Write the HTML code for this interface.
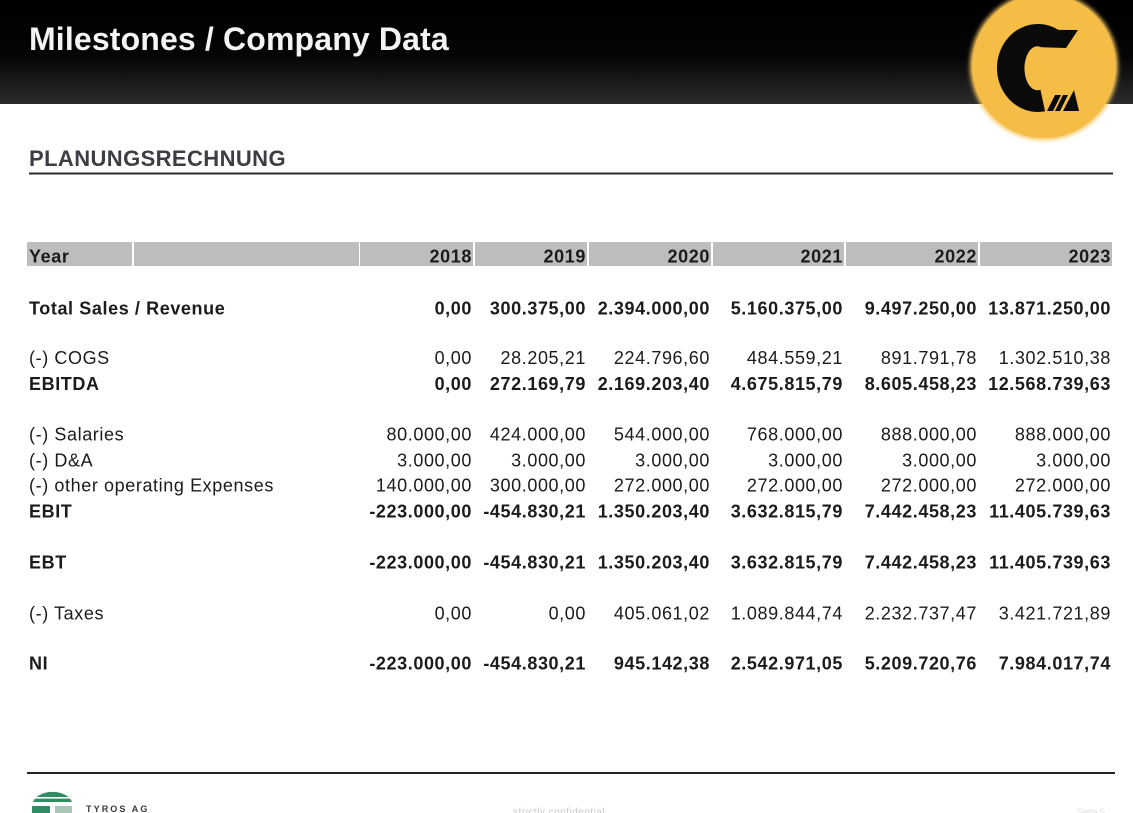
<!DOCTYPE html>
<html>
<head>
<meta charset="utf-8">
<style>
  html, body { margin: 0; padding: 0; background: #ffffff; }
  body { width: 1133px; height: 813px; overflow: hidden; }
  svg { display: block; }
  text { font-family: "Liberation Sans", Arial, sans-serif; }
  .v { font-size: 18px; letter-spacing: 0.6px; fill: #1b1b1b; text-anchor: end; }
  .l { font-size: 18px; letter-spacing: 0.6px; fill: #1b1b1b; }
  .b { font-weight: bold; }
</style>
</head>
<body>
<svg width="1133" height="813" viewBox="0 0 1133 813" xmlns="http://www.w3.org/2000/svg">
  <defs>
    <linearGradient id="hdr" x1="0" y1="0" x2="0" y2="1">
      <stop offset="0" stop-color="#000000"/>
      <stop offset="0.55" stop-color="#050505"/>
      <stop offset="1" stop-color="#2c2c2c"/>
    </linearGradient>
    <filter id="glow" x="-20%" y="-20%" width="140%" height="140%">
      <feGaussianBlur stdDeviation="2"/>
    </filter>
  </defs>

  <!-- header bar -->
  <rect x="0" y="0" width="1133" height="104" fill="url(#hdr)"/>
  <text x="29" y="50" font-size="32" font-weight="bold" letter-spacing="0.15" fill="#f4f4f4">Milestones / Company Data</text>

  <!-- logo circle -->
  <circle cx="1044" cy="66" r="74" fill="#f6c55a" filter="url(#glow)"/>
  <circle cx="1044" cy="66" r="72" fill="#f5bd45"/>
  <path d="M1078 30 L1058.5 29.9 A41 44 0 1 0 1045.1 111.3 L1040.4 89.7 A13 22 0 1 1 1041.4 47.3 L1066 48 Z" fill="#0a0a0a"/>
  <polygon points="1047,111 1053,111 1061,95 1055,95" fill="#0a0a0a"/>
  <polygon points="1055,111 1060,111 1068,95 1063,95" fill="#0a0a0a"/>
  <polygon points="1063,111 1079,111 1074,90" fill="#0a0a0a"/>

  <!-- section title -->
  <text x="29" y="166" font-size="22" font-weight="bold" letter-spacing="0.4" fill="#3b3e43">PLANUNGSRECHNUNG</text>
  <rect x="29" y="172.5" width="1084" height="2" fill="#2e2e2e"/>

  <!-- header row -->
  <g fill="#bdbdbd">
    <rect x="27" y="242" width="105" height="24"/>
    <rect x="134" y="242" width="225" height="24"/>
    <rect x="360" y="242" width="113" height="24"/>
    <rect x="475" y="242" width="112" height="24"/>
    <rect x="589" y="242" width="122" height="24"/>
    <rect x="713" y="242" width="131" height="24"/>
    <rect x="846" y="242" width="132" height="24"/>
    <rect x="980" y="242" width="132" height="24"/>
  </g>
  <text class="l b" x="29" y="262.5">Year</text>
  <text class="v b" x="472" y="262.5">2018</text>
  <text class="v b" x="586" y="262.5">2019</text>
  <text class="v b" x="710" y="262.5">2020</text>
  <text class="v b" x="843" y="262.5">2021</text>
  <text class="v b" x="977" y="262.5">2022</text>
  <text class="v b" x="1111" y="262.5">2023</text>

  <!-- Total Sales -->
  <text class="l b" x="29" y="314.5">Total Sales / Revenue</text>
  <text class="v b" x="472" y="314.5">0,00</text>
  <text class="v b" x="586" y="314.5">300.375,00</text>
  <text class="v b" x="710" y="314.5">2.394.000,00</text>
  <text class="v b" x="843" y="314.5">5.160.375,00</text>
  <text class="v b" x="977" y="314.5">9.497.250,00</text>
  <text class="v b" x="1111" y="314.5">13.871.250,00</text>

  <!-- COGS -->
  <text class="l" x="29" y="364">(-) COGS</text>
  <text class="v" x="472" y="364">0,00</text>
  <text class="v" x="586" y="364">28.205,21</text>
  <text class="v" x="710" y="364">224.796,60</text>
  <text class="v" x="843" y="364">484.559,21</text>
  <text class="v" x="977" y="364">891.791,78</text>
  <text class="v" x="1111" y="364">1.302.510,38</text>

  <!-- EBITDA -->
  <text class="l b" x="29" y="390">EBITDA</text>
  <text class="v b" x="472" y="390">0,00</text>
  <text class="v b" x="586" y="390">272.169,79</text>
  <text class="v b" x="710" y="390">2.169.203,40</text>
  <text class="v b" x="843" y="390">4.675.815,79</text>
  <text class="v b" x="977" y="390">8.605.458,23</text>
  <text class="v b" x="1111" y="390">12.568.739,63</text>

  <!-- Salaries -->
  <text class="l" x="29" y="440.5">(-) Salaries</text>
  <text class="v" x="472" y="440.5">80.000,00</text>
  <text class="v" x="586" y="440.5">424.000,00</text>
  <text class="v" x="710" y="440.5">544.000,00</text>
  <text class="v" x="843" y="440.5">768.000,00</text>
  <text class="v" x="977" y="440.5">888.000,00</text>
  <text class="v" x="1111" y="440.5">888.000,00</text>

  <!-- D&A -->
  <text class="l" x="29" y="466.5">(-) D&amp;A</text>
  <text class="v" x="472" y="466.5">3.000,00</text>
  <text class="v" x="586" y="466.5">3.000,00</text>
  <text class="v" x="710" y="466.5">3.000,00</text>
  <text class="v" x="843" y="466.5">3.000,00</text>
  <text class="v" x="977" y="466.5">3.000,00</text>
  <text class="v" x="1111" y="466.5">3.000,00</text>

  <!-- other operating -->
  <text class="l" x="29" y="491.5">(-) other operating Expenses</text>
  <text class="v" x="472" y="491.5">140.000,00</text>
  <text class="v" x="586" y="491.5">300.000,00</text>
  <text class="v" x="710" y="491.5">272.000,00</text>
  <text class="v" x="843" y="491.5">272.000,00</text>
  <text class="v" x="977" y="491.5">272.000,00</text>
  <text class="v" x="1111" y="491.5">272.000,00</text>

  <!-- EBIT -->
  <text class="l b" x="29" y="517.5">EBIT</text>
  <text class="v b" x="472" y="517.5">-223.000,00</text>
  <text class="v b" x="586" y="517.5">-454.830,21</text>
  <text class="v b" x="710" y="517.5">1.350.203,40</text>
  <text class="v b" x="843" y="517.5">3.632.815,79</text>
  <text class="v b" x="977" y="517.5">7.442.458,23</text>
  <text class="v b" x="1111" y="517.5">11.405.739,63</text>

  <!-- EBT -->
  <text class="l b" x="29" y="568.5">EBT</text>
  <text class="v b" x="472" y="568.5">-223.000,00</text>
  <text class="v b" x="586" y="568.5">-454.830,21</text>
  <text class="v b" x="710" y="568.5">1.350.203,40</text>
  <text class="v b" x="843" y="568.5">3.632.815,79</text>
  <text class="v b" x="977" y="568.5">7.442.458,23</text>
  <text class="v b" x="1111" y="568.5">11.405.739,63</text>

  <!-- Taxes -->
  <text class="l" x="29" y="619.5">(-) Taxes</text>
  <text class="v" x="472" y="619.5">0,00</text>
  <text class="v" x="586" y="619.5">0,00</text>
  <text class="v" x="710" y="619.5">405.061,02</text>
  <text class="v" x="843" y="619.5">1.089.844,74</text>
  <text class="v" x="977" y="619.5">2.232.737,47</text>
  <text class="v" x="1111" y="619.5">3.421.721,89</text>

  <!-- NI -->
  <text class="l b" x="29" y="669.5">NI</text>
  <text class="v b" x="472" y="669.5">-223.000,00</text>
  <text class="v b" x="586" y="669.5">-454.830,21</text>
  <text class="v b" x="710" y="669.5">945.142,38</text>
  <text class="v b" x="843" y="669.5">2.542.971,05</text>
  <text class="v b" x="977" y="669.5">5.209.720,76</text>
  <text class="v b" x="1111" y="669.5">7.984.017,74</text>

  <!-- footer -->
  <rect x="27" y="772" width="1088" height="2" fill="#262626"/>
  <path d="M33 802 A20 13 0 0 1 72 802 Z" fill="#2f8c63"/>
  <rect x="33" y="797" width="39" height="1.6" fill="#ffffff"/>
  <rect x="32" y="806" width="18" height="7" fill="#2f8c63"/>
  <rect x="55" y="806" width="17" height="7" fill="#a9c7b6"/>
  <text x="86" y="812" font-size="9" font-weight="bold" letter-spacing="2.1" fill="#3a3a3a">TYROS AG</text>
  <text x="513" y="815" font-size="10" fill="#c8c8c8" letter-spacing="0.5">strictly confidential</text>
  <text x="1105" y="815" font-size="9" fill="#dddddd" text-anchor="end">Seite 5</text>
</svg>
</body>
</html>
